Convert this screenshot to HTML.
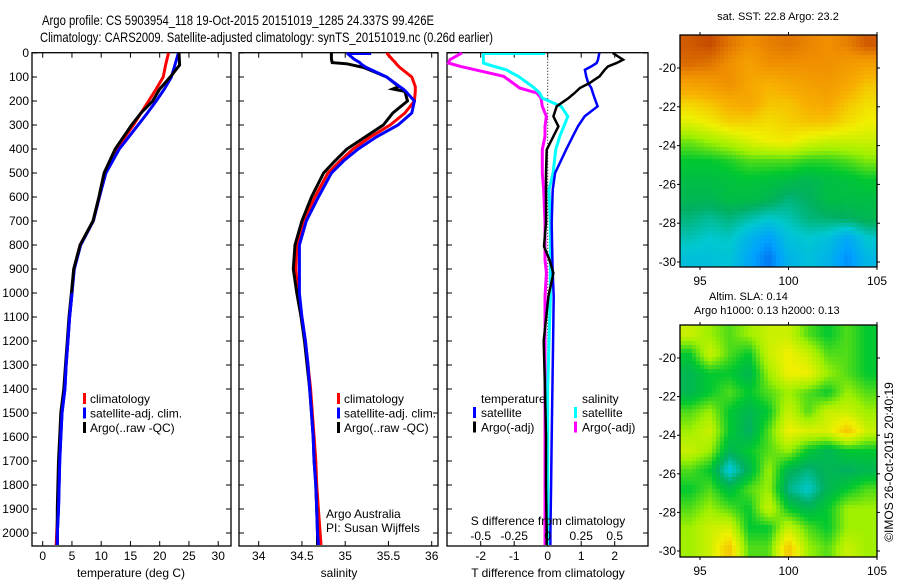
<!DOCTYPE html>
<html><head><meta charset="utf-8">
<style>
body{margin:0;background:#fff;}
svg{display:block;font-family:"Liberation Sans",Arial,sans-serif;}
</style></head>
<body>
<svg id="chart" width="900" height="580" viewBox="0 0 900 580" xmlns="http://www.w3.org/2000/svg">
<rect width="900" height="580" fill="#fff"/>
<text x="42" y="25" font-size="14" textLength="392" lengthAdjust="spacingAndGlyphs">Argo profile: CS 5903954_118 19-Oct-2015 20151019_1285 24.337S 99.426E</text>
<text x="40" y="42" font-size="14" textLength="453" lengthAdjust="spacingAndGlyphs">Climatology: CARS2009. Satellite-adjusted climatology: synTS_20151019.nc (0.26d earlier)</text>
<g id="g"></g>
</svg>
<script>
// ---- data ----
const tDepth = [0,50,100,150,200,250,300,400,500,600,700,800,900,1000,1100,1200,1300,1400,1500,1600,1700,1800,1900,2000,2050];
const tempClim = [21.5,21.0,20.6,19.4,18.1,16.8,15.5,12.6,10.6,9.7,8.65,6.4,5.35,5.0,4.6,4.3,4.0,3.7,3.2,3.0,2.8,2.7,2.6,2.4,2.3];
const tempSat  = [23.2,22.6,22.0,20.8,19.4,17.9,16.3,13.1,10.8,9.7,8.65,6.5,5.4,5.0,4.6,4.3,4.0,3.8,3.3,3.1,2.9,2.8,2.7,2.5,2.5];
const tempArgo = [23.3,23.4,21.8,20.0,18.8,16.8,15.2,12.4,10.5,9.6,8.6,6.4,5.3,4.9,4.5,4.2,3.9,3.6,3.1,2.9,2.7,2.6,2.5,2.5,2.5];
const sDepth = [0,25,40,45,60,100,140,150,160,200,250,300,350,400,450,500,600,700,800,900,1000,1100,1200,1300,1400,1500,1600,1700,1800,1900,2000,2050];
const salClim = [35.48,35.54,35.58,35.59,35.63,35.77,35.81,35.81,35.81,35.80,35.69,35.52,35.29,35.09,34.94,34.80,34.65,34.52,34.44,34.43,34.45,34.50,34.54,34.57,34.60,34.62,34.64,34.66,34.67,34.69,34.71,34.72];
const salSat  = [35.02,35.10,35.17,35.18,35.24,35.48,35.63,35.67,35.70,35.80,35.77,35.61,35.36,35.15,34.98,34.84,34.69,34.55,34.47,34.47,34.47,34.50,34.54,34.57,34.59,34.61,34.63,34.64,34.66,34.67,34.68,34.69];
const salArgo = [34.84,34.84,34.85,35.02,35.21,35.48,35.62,35.55,35.69,35.72,35.55,35.44,35.23,35.02,34.88,34.75,34.61,34.50,34.42,34.40,34.44,34.49,34.53,34.56,34.59,34.61,34.63,34.64,34.66,34.67,34.68,34.68];
const dDepth = [0,28,42,56,70,97,125,146,167,188,222,264,306,347,403,500,570,708,806,861,917,1014,1200,1400,1600,1800,2000,2050];
const dTempSat  = [1.54,1.50,1.46,1.30,1.11,1.15,1.21,1.30,1.35,1.40,1.49,1.10,0.90,0.75,0.55,0.22,0.15,0.12,0.13,0.14,0.15,0.18,0.16,0.14,0.12,0.10,0.08,0.08];
const dTempArgo = [1.94,2.25,2.05,1.80,1.70,1.55,1.25,0.96,0.80,0.62,0.27,0.17,0.32,0.17,-0.03,-0.05,-0.05,-0.05,-0.11,0.05,0.17,0.02,-0.12,-0.08,-0.05,-0.05,-0.03,-0.03];
const dSalSat   = [-0.48,-0.48,-0.48,-0.40,-0.31,-0.22,-0.15,-0.10,-0.06,-0.04,0.10,0.15,0.12,0.09,0.06,0.04,0.01,0.02,0.02,0.02,0.02,0.02,0.01,0.0,0.0,0.0,0.0,0.0];
const dSalArgo  = [-0.64,-0.73,-0.74,-0.65,-0.54,-0.33,-0.26,-0.21,-0.08,-0.05,-0.04,-0.01,-0.02,-0.02,-0.04,-0.04,-0.03,-0.02,-0.02,-0.02,-0.01,-0.02,-0.02,-0.02,-0.02,-0.02,-0.02,-0.02];
const depthTicks = [0,100,200,300,400,500,600,700,800,900,1000,1100,1200,1300,1400,1500,1600,1700,1800,1900,2000];
const tempTicks = [0,5,10,15,20,25,30];
const salTicks = [34,34.5,35,35.5,36];
const salTickLabels = ["34","34.5","35","35.5","36"];
const tdTicks = [-2,-1,0,1,2];
const sdTicks = [-0.5,-0.25,0,0.25,0.5];
const sdTickLabels = ["-0.5","-0.25","0","0.25","0.5"];
const latTicks = [-20,-22,-24,-26,-28,-30];
const lonTicks = [95,100,105];
const sstGrid = [
[0.95,0.98,0.90,0.85,0.88,0.90,0.87,0.85,0.88,0.95],
[0.92,0.90,0.85,0.80,0.85,0.85,0.85,0.85,0.82,0.80],
[0.80,0.82,0.85,0.78,0.75,0.78,0.80,0.82,0.78,0.72],
[0.70,0.72,0.76,0.78,0.72,0.72,0.76,0.78,0.72,0.68],
[0.63,0.66,0.70,0.70,0.68,0.70,0.72,0.72,0.68,0.65],
[0.52,0.55,0.58,0.62,0.65,0.66,0.62,0.60,0.60,0.60],
[0.45,0.45,0.47,0.50,0.50,0.50,0.48,0.48,0.50,0.53],
[0.42,0.42,0.43,0.44,0.43,0.42,0.40,0.42,0.43,0.45],
[0.40,0.40,0.42,0.42,0.40,0.36,0.38,0.42,0.42,0.42],
[0.36,0.34,0.36,0.33,0.30,0.32,0.36,0.37,0.38,0.40],
[0.32,0.30,0.31,0.25,0.20,0.28,0.30,0.28,0.22,0.30],
[0.28,0.28,0.29,0.22,0.15,0.25,0.28,0.25,0.18,0.26]];
const slaGrid = [
[0.60,0.55,0.50,0.55,0.60,0.60,0.50,0.45,0.50,0.45],
[0.45,0.60,0.50,0.45,0.60,0.65,0.60,0.50,0.50,0.45],
[0.40,0.45,0.45,0.40,0.55,0.65,0.65,0.55,0.50,0.45],
[0.40,0.45,0.50,0.45,0.50,0.55,0.50,0.45,0.55,0.50],
[0.50,0.55,0.45,0.40,0.45,0.60,0.50,0.60,0.60,0.55],
[0.55,0.60,0.45,0.38,0.50,0.65,0.62,0.62,0.72,0.60],
[0.60,0.55,0.40,0.45,0.50,0.55,0.45,0.40,0.45,0.45],
[0.50,0.45,0.28,0.40,0.55,0.40,0.36,0.40,0.38,0.40],
[0.45,0.50,0.42,0.50,0.55,0.35,0.30,0.40,0.45,0.50],
[0.50,0.55,0.50,0.45,0.60,0.45,0.40,0.45,0.55,0.55],
[0.55,0.60,0.62,0.45,0.45,0.60,0.50,0.45,0.55,0.55],
[0.55,0.60,0.72,0.50,0.50,0.72,0.55,0.50,0.60,0.55]];

// ---- helpers ----
const NS="http://www.w3.org/2000/svg";
const G=document.getElementById('g');
function mk(tag,attrs,parent){const e=document.createElementNS(NS,tag);for(const k in attrs)e.setAttribute(k,attrs[k]);(parent||G).appendChild(e);return e;}
function txt(x,y,s,size,anchor,parent){const e=mk('text',{x:x,y:y,'font-size':size||12,'text-anchor':anchor||'start'},parent);e.textContent=s;return e;}
const PT=52.7, PB=546;
const yD=d=>53+d*0.24;
const xT=t=>42.7+t*5.85;
const xS=s=>258.7+(s-34)*86.5;
const xTD=v=>547.7+v*33.5;
const xSD=v=>547.7+v*134;

function frame(x0,x1,name,xt,xfn){
  const g=mk('g',{});
  
  
  mk('rect',{x:x0,y:PT,width:x1-x0,height:PB-PT,fill:'none',stroke:'#000','stroke-width':1.3},g);
  depthTicks.forEach(d=>{const y=yD(d);
    mk('line',{x1:x0,x2:x0+5,y1:y,y2:y,stroke:'#000'},g);
    mk('line',{x1:x1-5,x2:x1,y1:y,y2:y,stroke:'#000'},g);});
  xt.forEach(v=>{const x=xfn(v);
    mk('line',{x1:x,x2:x,y1:PT,y2:PT+5,stroke:'#000'},g);
    mk('line',{x1:x,x2:x,y1:PB-5,y2:PB,stroke:'#000'},g);});
  return g;
}
function line(xs,ds,xfn,color,name,w){
  const pts=xs.map((v,i)=>xfn(v).toFixed(1)+','+yD(ds[i]).toFixed(1)).join(' ');
  const p=mk('polyline',{points:pts,fill:'none',stroke:color,'stroke-width':w||3,'stroke-linejoin':'miter'});
  
  
}
const dl=mk('g',{});


depthTicks.forEach(d=>txt(29,yD(d)+4,String(d),12,'end',dl));

// ---- panel 1 temperature ----
frame(32,231,'temperature-panel',tempTicks,xT);
line(tempClim,tDepth,xT,'#ff0000','temp-climatology-line');
line(tempSat,tDepth,xT,'#0000ff','temp-satellite-line');
line(tempArgo,tDepth,xT,'#000000','temp-argo-line');
line(tempSat.slice(13),tDepth.slice(13),xT,'#0000ff','temp-satellite-deep-line');
tempTicks.forEach(v=>txt(xT(v),560,String(v),12,'middle'));
const tl=txt(131,577,'temperature (deg C)',12,'middle');


function legend(x,y,items,name){
  const g=mk('g',{});
  
  
  items.forEach((it,i)=>{
    mk('rect',{x:x,y:y+i*14.5-10,width:3,height:11,fill:it[1]},g);
    txt(x+7,y+i*14.5,it[0],12,'start',g);});
}
legend(83,403,[['climatology','#ff0000'],['satellite-adj. clim.','#0000ff'],['Argo(..raw -QC)','#000000']],'temperature-legend');

// ---- panel 2 salinity ----
frame(239,438,'salinity-panel',salTicks,xS);
line(salClim,sDepth,xS,'#ff0000','sal-climatology-line');
line(salArgo,sDepth,xS,'#000000','sal-argo-line');
line(salSat,sDepth,xS,'#0000ff','sal-satellite-line');
mk('line',{x1:xS(35.02),x2:xS(35.3),y1:yD(0)+1,y2:yD(0)+1,stroke:'#0000ff','stroke-width':2});
salTicks.forEach((v,i)=>txt(xS(v),560,salTickLabels[i],12,'middle'));
const sl=txt(339,577,'salinity',12,'middle');


legend(337,403,[['climatology','#ff0000'],['satellite-adj. clim.','#0000ff'],['Argo(..raw -QC)','#000000']],'salinity-legend');
const aa=mk('g',{});


txt(326,518,'Argo Australia',12,'start',aa);
txt(326,532,'PI: Susan Wijffels',12,'start',aa);

// ---- panel 3 differences ----
frame(447,648,'difference-panel',tdTicks,xTD);
mk('line',{x1:xTD(0),x2:xTD(0),y1:PT,y2:PB,stroke:'#000','stroke-dasharray':'1,2'});
line(dSalArgo,dDepth,xSD,'#ff00ff','sal-diff-argo-line');
line(dSalSat,dDepth,xSD,'#00ffff','sal-diff-satellite-line');
line(dTempSat,dDepth,xTD,'#0000ff','temp-diff-satellite-line',2.5);
line(dTempArgo,dDepth,xTD,'#000000','temp-diff-argo-line',2.5);
mk('line',{x1:xSD(-0.48),x2:xSD(-0.02),y1:yD(0)+1,y2:yD(0)+1,stroke:'#00ffff','stroke-width':2});
const lg3=mk('g',{});


txt(481,403,'temperature',12,'start',lg3);
txt(582,403,'salinity',12,'start',lg3);
[['satellite','#0000ff',473],['Argo(-adj)','#000000',473],['satellite','#00ffff',574],['Argo(-adj)','#ff00ff',574]].forEach((it,i)=>{
  const y=417+(i%2)*14.5;
  mk('rect',{x:it[2],y:y-10,width:3,height:11,fill:it[1]},lg3);
  txt(it[2]+8,y,it[0],12,'start',lg3);});
txt(548,525,'S difference from climatology',12,'middle');
sdTicks.forEach((v,i)=>txt(xSD(v),540,sdTickLabels[i],12,'middle'));
tdTicks.forEach(v=>txt(xTD(v),560,String(v),12,'middle'));
const tdl=txt(548,577,'T difference from climatology',12,'middle');



// ---- maps ----
const stops=[[0.10,[0,80,224]],[0.20,[0,160,255]],[0.30,[0,200,208]],[0.38,[0,176,96]],[0.45,[0,200,48]],[0.55,[160,240,0]],[0.65,[240,240,0]],[0.75,[248,176,0]],[0.85,[240,144,0]],[1.0,[192,64,0]]];
function cmap(v){
  if(v<=stops[0][0])return stops[0][1];
  for(let i=1;i<stops.length;i++){if(v<=stops[i][0]){const a=stops[i-1],b=stops[i],t=(v-a[0])/(b[0]-a[0]);return a[1].map((c,k)=>Math.round(c+(b[1][k]-c)*t));}}
  return stops[stops.length-1][1];
}
function map(grid,x0,y0,w,h,name,lat0,pxLat,lon0,pxLon){
  const g=mk('g',{});
  
  
  const R=grid.length,C=grid[0].length,step=4;
  for(let py=0;py<h;py+=step){for(let px=0;px<w;px+=step){
    const fy=Math.min(R-1,Math.max(0,(py+step/2)/h*R-0.5)),fx=Math.min(C-1,Math.max(0,(px+step/2)/w*C-0.5));
    const r0=Math.floor(fy),c0=Math.floor(fx),r1=Math.min(R-1,r0+1),c1=Math.min(C-1,c0+1),ty=fy-r0,tx=fx-c0;
    const v=(grid[r0][c0]*(1-tx)+grid[r0][c1]*tx)*(1-ty)+(grid[r1][c0]*(1-tx)+grid[r1][c1]*tx)*ty;
    const c=cmap(v);
    mk('rect',{x:x0+px,y:y0+py,width:Math.min(step,w-px)+0.3,height:Math.min(step,h-py)+0.3,fill:'rgb('+c.join(',')+')'},g);
  }}
  mk('rect',{x:x0,y:y0,width:w,height:h,fill:'none',stroke:'#000','stroke-width':1.3},g);
  latTicks.forEach(l=>{const y=lat0+(-20-l)*pxLat;
    mk('line',{x1:x0+w,x2:x0+w+3,y1:y,y2:y,stroke:'#000'},g);
    mk('line',{x1:x0-3,x2:x0,y1:y,y2:y,stroke:'#000'},g);
    txt(x0-4,y+4,String(l),12,'end',g);});
  lonTicks.forEach(l=>{const x=lon0+(l-95)*pxLon;
    mk('line',{x1:x,x2:x,y1:y0-3,y2:y0,stroke:'#000'},g);
    mk('line',{x1:x,x2:x,y1:y0+h,y2:y0+h+3,stroke:'#000'},g);
    txt(x,y0+h+18,String(l),12,'middle',g);});
}
map(sstGrid,680,35,197,232,'sst-map',68,19.4,700,17.7);
map(slaGrid,680,325,197,232,'sla-map',358,19.3,700,17.7);
txt(778,20,'sat. SST: 22.8 Argo: 23.2',11,'middle');
txt(709,300,'Altim. SLA: 0.14',11,'start');
txt(694,314,'Argo h1000: 0.13 h2000: 0.13',11,'start');
const cr=txt(0,0,'©IMOS 26-Oct-2015 20:40:19',12,'middle');
cr.setAttribute('transform','translate(893,462) rotate(-90)');


</script>
</body></html>
